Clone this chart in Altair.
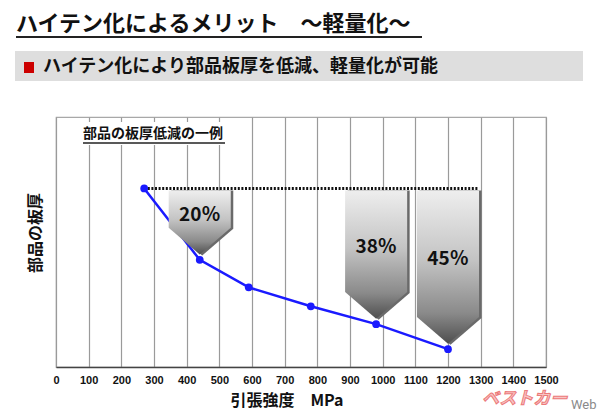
import altair as alt
import pandas as pd

# ---- data ----
strength = [270, 440, 590, 780, 980, 1200]          # MPa
thickness = [100, 80, 72.3, 67, 62, 55]              # relative sheet thickness
arrow_strength = [440, 980, 1200]
arrow_labels = ["20％", "38％", "45％"]
x_ticks = [0, 100, 200, 300, 400, 500, 600, 700, 800, 900, 1000, 1100, 1200, 1300, 1400, 1500]

title_text = "ハイテン化によるメリット　～軽量化～"
banner_text = "ハイテン化により部品板厚を低減、軽量化が可能"
example_text = "部品の板厚低減の一例"
y_title = "部品の板厚"
x_title = "引張強度　MPa"
logo_text = "ベストカー"
logo_web = "Web"

# ---- arrow geometry (style constants, in data units) ----
HALF = 95     # half width in MPa
GAP = 1.5     # gap between tip and point
TIP = 7.5     # height of the pointed part
TOP = 99.4    # top edge, just below the reference line

JP = "Noto Sans CJK JP"

line_df = pd.DataFrame({"x": strength, "y": thickness})
val = dict(zip(strength, thickness))

rows = []
for i, c in enumerate(arrow_strength):
    v = val[c]
    for dx, dy in [(-HALF, GAP + TIP), (0, GAP), (HALF, GAP + TIP)]:
        rows.append({"arrow": i, "x": c + dx, "y": v + dy, "y2": TOP})
arrow_df = pd.DataFrame(rows)

label_df = pd.DataFrame({
    "x": arrow_strength,
    "y": [(TOP + val[c] + GAP + TIP) / 2 - 1.5 for c in arrow_strength],
    "label": arrow_labels,
})
dotted_df = pd.DataFrame({"x": [strength[0], arrow_strength[-1] + HALF],
                          "y": [thickness[0], thickness[0]]})

xs = alt.Scale(domain=[0, 1500], nice=False, zero=False)
ys = alt.Scale(domain=[50, 120], nice=False, zero=False)
x_axis = alt.Axis(values=x_ticks, format="d", grid=True, gridColor="#9a9a9a", gridWidth=1.2,
                  ticks=False, domain=True, domainColor="#444", domainWidth=1.5,
                  labelFont="Liberation Sans", labelFontWeight="bold", labelFontSize=11,
                  labelColor="#111", labelPadding=7, labelFlush=False, labelOverlap=False,
                  title=None)


def X(f):
    return alt.X(f, scale=xs, axis=x_axis)


def Y(f):
    return alt.Y(f, scale=ys, axis=None)


one = pd.DataFrame({"k": [0]})

# white box behind the example caption (hides grid lines)
caption_bg = alt.Chart(one).mark_rect(color="white").encode(
    x=alt.value(24), x2=alt.value(174), y=alt.value(5), y2=alt.value(28))

line = alt.Chart(line_df).mark_line(color="#1a1aff", strokeWidth=2.5).encode(
    x=X("x:Q"), y=Y("y:Q"))

grad = alt.LinearGradient(
    gradient="linear", x1=0, x2=0, y1=0, y2=1,
    stops=[alt.GradientStop(color="#eeeeee", offset=0),
           alt.GradientStop(color="#c4c4c4", offset=0.45),
           alt.GradientStop(color="#8a8a8a", offset=0.8),
           alt.GradientStop(color="#4e4e4e", offset=1)])

arrow_shadow = alt.Chart(arrow_df).mark_area(
    color="#6a6a6a", orient="vertical", xOffset=2.5, yOffset=1).encode(
    x=X("x:Q"), y=Y("y:Q"), y2="y2:Q", detail="arrow:N")

arrows = alt.Chart(arrow_df).mark_area(
    color=grad, orient="vertical").encode(
    x=X("x:Q"), y=Y("y:Q"), y2="y2:Q", detail="arrow:N")

dotted = alt.Chart(dotted_df).mark_line(
    color="#111", strokeWidth=3, strokeDash=[2, 1.6]).encode(
    x=X("x:Q"), y=Y("y:Q"))

points = alt.Chart(line_df).mark_point(
    filled=True, color="#1a1aff", size=60, opacity=1).encode(
    x=X("x:Q"), y=Y("y:Q"))

labels = alt.Chart(label_df).mark_text(
    font=JP, fontWeight="bold", fontSize=19, color="#111",
    align="center", baseline="middle").encode(
    x=X("x:Q"), y=Y("y:Q"), text="label:N")

# decorations (pixel positions relative to the plot area)
title = alt.Chart(one).mark_text(
    font=JP, fontWeight="bold", fontSize=22, color="#111",
    align="left", baseline="middle").encode(
    x=alt.value(-40), y=alt.value(-93), text=alt.value(title_text))
title_ul = alt.Chart(one).mark_rule(color="#222", strokeWidth=2).encode(
    x=alt.value(-40), x2=alt.value(366), y=alt.value(-80))

banner = alt.Chart(one).mark_rect(color="#dedede").encode(
    x=alt.value(-41), x2=alt.value(527), y=alt.value(-66), y2=alt.value(-36))
red_sq = alt.Chart(one).mark_rect(color="#cc0000").encode(
    x=alt.value(-32), x2=alt.value(-22), y=alt.value(-55), y2=alt.value(-44))
banner_t = alt.Chart(one).mark_text(
    font=JP, fontWeight="bold", fontSize=18, color="#111",
    align="left", baseline="middle").encode(
    x=alt.value(-13), y=alt.value(-50), text=alt.value(banner_text))

caption = alt.Chart(one).mark_text(
    font=JP, fontWeight="bold", fontSize=14, color="#111",
    align="left", baseline="middle").encode(
    x=alt.value(27), y=alt.value(17), text=alt.value(example_text))
caption_ul = alt.Chart(one).mark_rule(color="#222", strokeWidth=1.5).encode(
    x=alt.value(27), x2=alt.value(169), y=alt.value(26))

ytitle = alt.Chart(one).mark_text(
    font=JP, fontWeight="bold", fontSize=16, color="#111",
    align="center", baseline="middle", angle=270).encode(
    x=alt.value(-20), y=alt.value(116), text=alt.value(y_title))

xtitle = alt.Chart(one).mark_text(
    font=JP, fontWeight="bold", fontSize=16, color="#111",
    align="center", baseline="middle").encode(
    x=alt.value(231), y=alt.value(284), text=alt.value(x_title))

logo = alt.Chart(one).mark_text(
    font=JP, fontWeight="bold", fontStyle="italic", fontSize=17,
    color="#f8c4c4", stroke="#ec7a7a", strokeWidth=1,
    align="left", baseline="middle").encode(
    x=alt.value(426), y=alt.value(282), text=alt.value(logo_text))
logo_w = alt.Chart(one).mark_text(
    font="Roboto", fontSize=13, color="#8a8a8a",
    align="left", baseline="middle").encode(
    x=alt.value(515), y=alt.value(288), text=alt.value(logo_web))

chart = alt.layer(
    caption_bg, line, arrow_shadow, arrows, dotted, points, labels,
    title, title_ul, banner, red_sq, banner_t, caption, caption_ul,
    ytitle, xtitle, logo, logo_w,
).properties(
    width=490, height=250,
    autosize=alt.AutoSizeParams(type="none"),
    padding={"left": 56, "top": 117, "right": 54, "bottom": 46},
    background="white",
).configure_view(stroke="#a8a8a8", strokeWidth=1.2)

chart.save("out.html", embed_options={"renderer": "svg", "actions": False})
